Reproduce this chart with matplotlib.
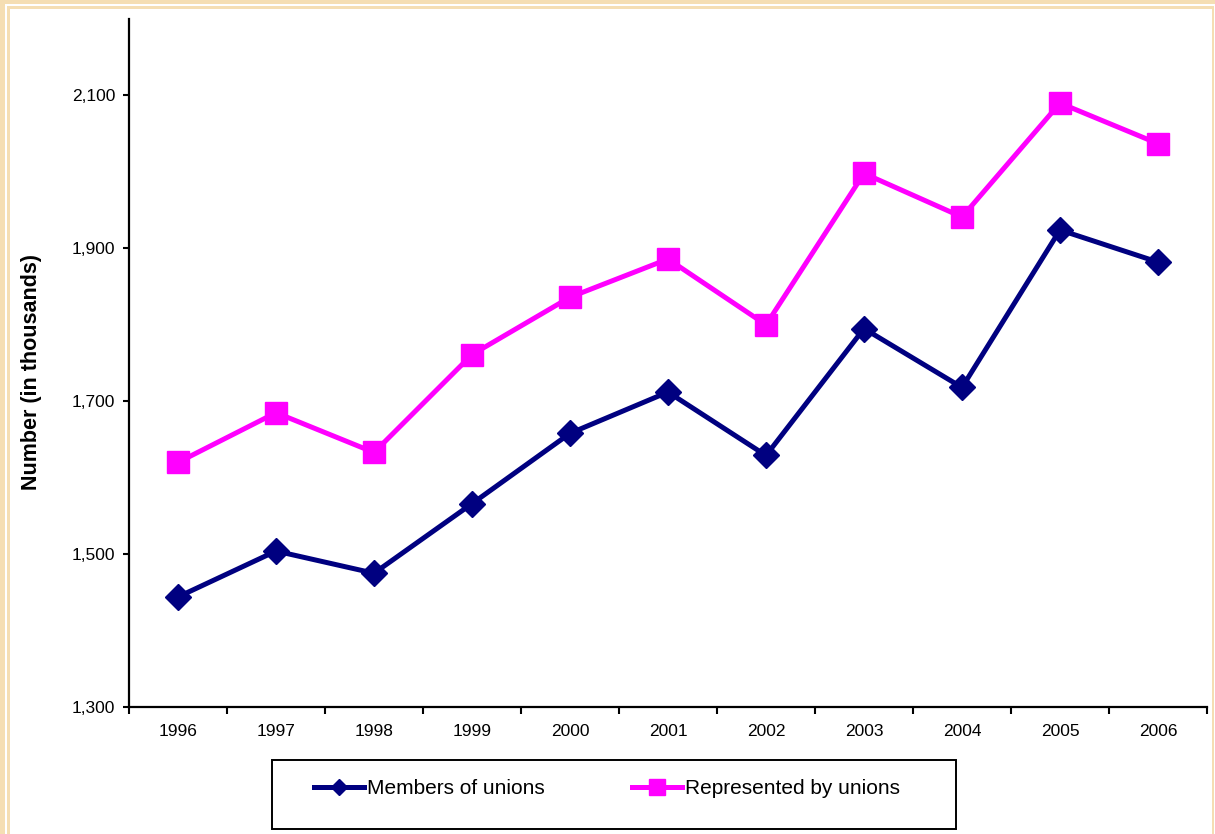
import numpy as np
import matplotlib
matplotlib.use("Agg")
import matplotlib.pyplot as plt
from matplotlib.lines import Line2D
from matplotlib.patches import Rectangle
from matplotlib.ticker import FuncFormatter

plt.rcParams['font.family'] = ['Liberation Sans', 'DejaVu Sans']

years = ['1996', '1997', '1998', '1999', '2000', '2001',
         '2002', '2003', '2004', '2005', '2006']
members = [1444, 1504, 1475, 1566, 1658, 1712, 1629, 1795, 1718, 1924, 1882]
represented = [1620, 1685, 1633, 1761, 1836, 1886, 1800, 1998, 1941, 2090, 2037]
y_ticks = [1300, 1500, 1700, 1900, 2100]

navy = '#000080'
pink = '#FF00FF'
tan = '#F5DEB3'

fig = plt.figure(figsize=(12.15, 8.34), dpi=100)
ax = fig.add_axes([129 / 1215, 1 - 707 / 834, 1078 / 1215, 688 / 834])

x = np.arange(len(years))
ax.plot(x, members, color=navy, lw=3.6, marker='D', ms=13, mec=navy, mfc=navy)
ax.plot(x, represented, color=pink, lw=3.6, marker='s', ms=16.5, mec=pink, mfc=pink)

ax.set_xlim(-0.5, len(years) - 0.5)
ax.set_ylim(1300, 2200)
ax.set_xticks(x)
ax.set_xticklabels(years, fontsize=12.5)
ax.set_xticks(np.arange(len(years) + 1) - 0.5, minor=True)
ax.tick_params(axis='x', which='major', length=0, pad=12)
ax.tick_params(axis='x', which='minor', length=5, width=1.5, direction='out')
ax.set_yticks(y_ticks)
ax.yaxis.set_major_formatter(FuncFormatter(lambda v, p: f'{int(v):,}'))
ax.tick_params(axis='y', length=4, width=1.5, labelsize=12.5, pad=6)

for s in ['top', 'right']:
    ax.spines[s].set_visible(False)
for s in ['left', 'bottom']:
    ax.spines[s].set_linewidth(1.6)

ax.set_ylabel('Number (in thousands)', fontsize=15.5, fontweight='bold')
ax.yaxis.set_label_coords(-0.081, 0.487)

# legend box
fig.add_artist(Rectangle((272 / 1215, 5 / 834), 684 / 1215, 69 / 834,
                         transform=fig.transFigure, fill=False,
                         edgecolor='black', lw=1.4))
handles = [
    Line2D([], [], color=navy, lw=3.6, marker='D', ms=8.5),
    Line2D([], [], color=pink, lw=3.6, marker='s', ms=12),
]
fig.legend(handles, ['Members of unions', 'Represented by unions'],
           loc='center', bbox_to_anchor=(607 / 1215, 1 - 789 / 834),
           ncol=2, frameon=False, fontsize=15, handlelength=2.4,
           handletextpad=0.15, columnspacing=4.2)

# frame around the picture
fig.add_artist(Rectangle((0, 0), 5 / 1215, 1, transform=fig.transFigure,
                         color=tan, lw=0))
fig.add_artist(Rectangle((0, 1 - 4 / 834), 1, 4 / 834, transform=fig.transFigure,
                         color=tan, lw=0))
fig.add_artist(Rectangle((7 / 1215, 0), 3 / 1215, 1 - 6 / 834,
                         transform=fig.transFigure, color=tan, lw=0))
fig.add_artist(Rectangle((7 / 1215, 1 - 9 / 834), 1 - 9 / 1215, 3 / 834,
                         transform=fig.transFigure, color=tan, lw=0))
fig.add_artist(Rectangle((1 - 3 / 1215, 0), 2 / 1215, 1 - 6 / 834,
                         transform=fig.transFigure, color=tan, lw=0))

plt.savefig('out.png', dpi=100)
